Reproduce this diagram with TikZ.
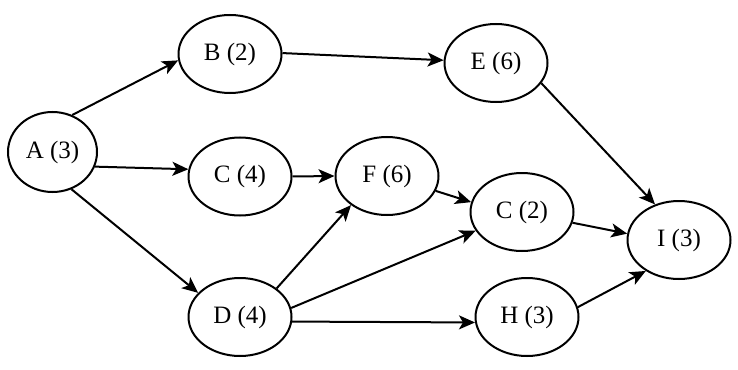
\documentclass[tikz,border=0pt]{standalone}
\usepackage{fontspec}
\setmainfont{Liberation Serif}
\usetikzlibrary{shapes.geometric,arrows.meta}

\tikzset{
  task/.style={ellipse, draw=black, line width=1pt, minimum width=51.5pt, minimum height=39pt, inner sep=0pt, font=\fontsize{12.5}{14}\selectfont},
  dep/.style={-{Stealth[length=8pt,width=7pt,inset=2pt]}, line width=1pt}
}

\begin{document}
\begin{tikzpicture}[x=0.5pt, y=-0.5pt]
				\useasboundingbox (0,0) rectangle (738,369);
				\node[task, minimum width=44.5pt, minimum height=40pt] (a) at (52.5,152) {A (3)};
				\node[task] (b) at (230,54) {B (2)};
				\node[task] (c4) at (240,176.5) {C (4)};
				\node[task] (d) at (240,317) {D (4)};
				\node[task] (f) at (387,176) {F (6)};
				\node[task] (e) at (496,63) {E (6)};
				\node[task] (c2) at (522,212) {C (2)};
				\node[task] (h) at (527,317) {H (3)};
				\node[task] (i) at (679,240) {I (3)};
				
				\draw[dep] (a.62) -- (b.187);
				\draw[dep] (a.341) -- (c4.172);
				\draw[dep] (a.297) -- (d.150);
				\draw[dep] (b.1) -- (e.177);
				\draw[dep] (c4.east) -- (f.west);
				\draw[dep] (d.38) -- (f.219);
				\draw[dep] (d.10) -- (c2.202);
				\draw[dep] (d.355) -- (h.186);
				\draw[dep] (f.343) -- (c2.169);
				\draw[dep] (e.336) -- (i.124);
				\draw[dep] (c2.348) -- (i.173);
				\draw[dep] (h.11) -- (i.223);
			\end{tikzpicture}
\end{document}
